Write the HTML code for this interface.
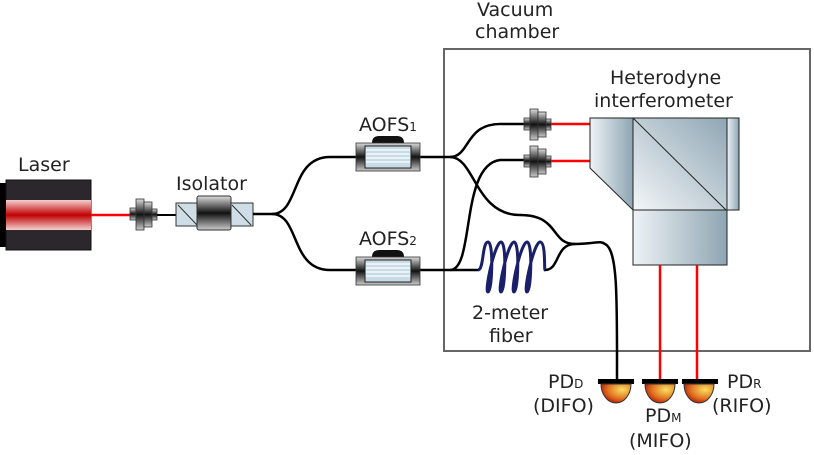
<!DOCTYPE html>
<html><head><meta charset="utf-8"><style>
html,body{margin:0;padding:0;background:#fff;}
svg{display:block;font-family:"DejaVu Sans","Liberation Sans",sans-serif;}
</style></head><body>
<svg width="814" height="455" viewBox="0 0 814 455" xmlns="http://www.w3.org/2000/svg">
<defs>
<linearGradient id="red" x1="0" y1="0" x2="0" y2="1">
<stop offset="0" stop-color="#f4d0d0"/><stop offset="0.5" stop-color="#c00000"/><stop offset="1" stop-color="#f4d0d0"/></linearGradient>
<linearGradient id="met" x1="0" y1="0" x2="0" y2="1">
<stop offset="0" stop-color="#ddd"/><stop offset="0.5" stop-color="#111"/><stop offset="1" stop-color="#ccc"/></linearGradient>
<linearGradient id="glass" x1="0" y1="0" x2="1" y2="0">
<stop offset="0" stop-color="#eef3f6"/><stop offset="1" stop-color="#8ea5b3"/></linearGradient>
<linearGradient id="glass2" x1="0" y1="1" x2="1" y2="0">
<stop offset="0" stop-color="#f3f6f8"/><stop offset="1" stop-color="#8fa6b4"/></linearGradient>
<radialGradient id="pd" cx="0.7" cy="0.3" r="0.8">
<stop offset="0" stop-color="#f8e060"/><stop offset="0.6" stop-color="#e07020"/><stop offset="1" stop-color="#b01000"/></radialGradient>
<g id="col">
<rect x="0" y="9" width="6" height="12" fill="url(#met)" stroke="#333" stroke-width="0.8"/>
<rect x="6" y="0" width="8" height="31" fill="url(#met)" stroke="#333" stroke-width="0.8"/>
<rect x="14" y="3" width="8" height="25" fill="url(#met)" stroke="#333" stroke-width="0.8"/>
<rect x="22" y="10" width="5" height="11" fill="url(#met)" stroke="#333" stroke-width="0.8"/>
</g>
<g id="aofs">
<path d="M16,0 Q16,-7 23,-7 L41,-7 Q48,-7 48,0 Z" fill="#111"/>
<rect x="0" y="0" width="64" height="28" fill="url(#met)" stroke="#333" stroke-width="0.8"/>
<rect x="9" y="3" width="46" height="22" fill="#c8dce8" stroke="#222"/>
<g stroke="#fff" stroke-width="1.2"><line x1="10" y1="7" x2="54" y2="7"/><line x1="10" y1="11" x2="54" y2="11"/><line x1="10" y1="15" x2="54" y2="15"/><line x1="10" y1="19" x2="54" y2="19"/></g>
</g>
</defs>

<rect x="444" y="49" width="366" height="302" fill="none" stroke="#666" stroke-width="2"/>

<rect x="0" y="183" width="8" height="64" fill="#000"/>
<rect x="6" y="180" width="85" height="70" fill="#2b272c" stroke="#111"/>
<rect x="6" y="200" width="85" height="30" fill="url(#red)"/>
<line x1="91" y1="215" x2="131" y2="215" stroke="#f00" stroke-width="2.5"/>
<use href="#col" x="130" y="199"/>
<line x1="157" y1="215" x2="176" y2="215" stroke="#000" stroke-width="2"/>

<rect x="176" y="203" width="77" height="23" fill="#cfdde6" stroke="#333"/>
<line x1="178" y1="205" x2="197" y2="225" stroke="#333"/>
<line x1="232" y1="205" x2="251" y2="225" stroke="#333"/>
<rect x="197" y="196" width="34" height="34" rx="2" fill="url(#met)" stroke="#333"/>

<g fill="none" stroke="#000" stroke-width="2.5">
<path d="M253,214 L272,214 C300,214 290,157 330,157 L357,157"/>
<path d="M272,214 C300,214 290,270 330,270 L357,270"/>
<path d="M420,157 L450,157 C470,157 465,124 500,124 L525,124"/>
<path d="M450,157 C475,157 475,215 520,215 C560,215 550,244 575,244 C595,244 600,240 605,244 C618,250 617,300 617,380"/>
<path d="M420,270 L450,270 C475,270 460,165 500,160 L525,160"/>
<path d="M450,270 L478,270"/>
<path d="M545,270 C560,270 555,244 575,244"/>
</g>
<path d="M478,270 C484,270 482,242 488,242 C494,242 492,292 488,292 C484,292 495,242 501,242 C507,242 505,292 501,292 C497,292 508,242 514,242 C520,242 518,292 514,292 C510,292 521,242 527,242 C533,242 531,292 527,292 C523,292 534,242 540,242 C546,242 544,270 545,270" fill="none" stroke="#1a1f6a" stroke-width="3"/>

<use href="#aofs" x="356" y="143"/>
<use href="#aofs" x="356" y="257"/>

<use href="#col" x="524" y="109"/>
<use href="#col" x="524" y="146"/>
<line x1="551" y1="124" x2="591" y2="124" stroke="#f00" stroke-width="2.5"/>
<line x1="551" y1="161" x2="591" y2="161" stroke="#f00" stroke-width="2.5"/>

<path d="M590,118 L633,118 L633,210 L590,168 Z" fill="url(#glass)" stroke="#222"/>
<rect x="633" y="118" width="94" height="92" fill="url(#glass2)" stroke="#222"/>
<line x1="633" y1="118" x2="726" y2="210" stroke="#222"/>
<rect x="727" y="118" width="12" height="92" fill="url(#glass)" stroke="#222"/>
<rect x="633" y="210" width="94" height="55" fill="url(#glass)" stroke="#222"/>
<line x1="660" y1="265" x2="660" y2="380" stroke="#f00" stroke-width="2.5"/>
<line x1="697" y1="265" x2="697" y2="380" stroke="#f00" stroke-width="2.5"/>

<rect x="598" y="379" width="36" height="5" fill="#000"/>
<path d="M601,384 A15,19 0 0 0 631,384 Z" fill="url(#pd)" stroke="#333"/>
<rect x="642" y="379" width="36" height="5" fill="#000"/>
<path d="M645,384 A15,19 0 0 0 675,384 Z" fill="url(#pd)" stroke="#333"/>
<rect x="682" y="379" width="36" height="5" fill="#000"/>
<path d="M684,384 A15,19 0 0 0 714,384 Z" fill="url(#pd)" stroke="#333"/>

<g fill="#222" font-size="19">
<text x="18" y="171">Laser</text>
<text x="176" y="190">Isolator</text>
<text x="359" y="131">AOFS<tspan font-size="12">1</tspan></text>
<text x="359" y="245">AOFS<tspan font-size="12">2</tspan></text>
<text x="477" y="16">Vacuum</text>
<text x="475" y="38">chamber</text>
<text x="610" y="84">Heterodyne</text>
<text x="594" y="107">interferometer</text>
<text x="472" y="319">2-meter</text>
<text x="489" y="342">fiber</text>
<text x="548" y="388">PD<tspan font-size="12">D</tspan></text>
<text x="533" y="412">(DIFO)</text>
<text x="645" y="422">PD<tspan font-size="12">M</tspan></text>
<text x="629" y="447">(MIFO)</text>
<text x="727" y="388">PD<tspan font-size="12">R</tspan></text>
<text x="712" y="412">(RIFO)</text>
</g>
</svg>
</body></html>
